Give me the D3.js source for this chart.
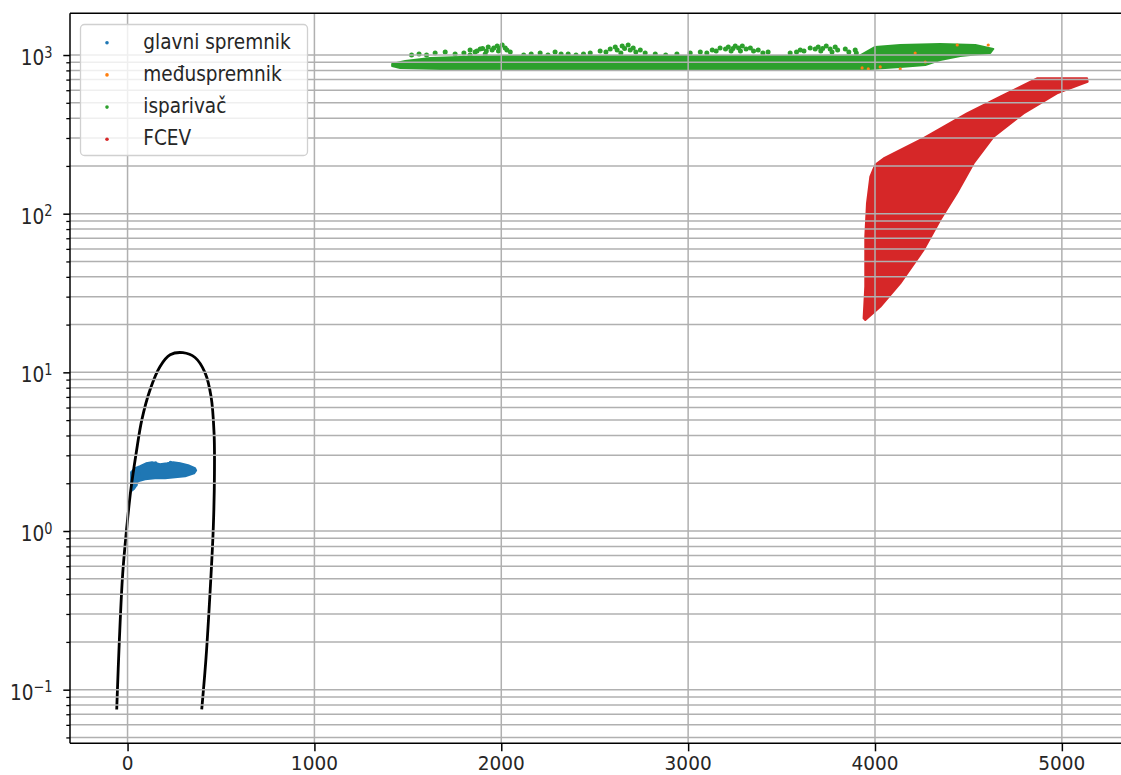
<!DOCTYPE html>
<html><head><meta charset="utf-8">
<script src="https://cdn.jsdelivr.net/npm/d3@7"></script>
<style>body{margin:0;background:#fff}svg{display:block}text{font-family:"DejaVu Sans",sans-serif;fill:#262626}</style>
</head><body>
<svg id="c" width="1121" height="775"></svg>
<script>
// ---------- data ----------
const xTicks = [0, 1000, 2000, 3000, 4000, 5000];
const yTickExps = [-1, 0, 1, 2, 3];
const legendLabels = ["glavni spremnik", "međuspremnik", "isparivač", "FCEV"];
const seriesColors = ["#1f77b4", "#ff7f0e", "#2ca02c", "#d62728"];

// black boundary curve (x, y)
const curvePts = [[-58,0.075],[-44,0.203],[-26,0.538],[-4,1.06],[17,1.80],[46,3.09],[76,5.0],[120,7.75],[174,10.9],[228,12.9],[296,13.3],[361,12.4],[415,9.93],[447,7.03],[463,4.14],[465,2.31],[459,1.06],[442,0.42],[420,0.159],[397,0.075]];

// glavni spremnik: outline of the dense point cloud
const blueCloud = [[19,2.35],[40,2.49],[67,2.56],[99,2.67],[131,2.71],[174,2.64],[211,2.67],[244,2.71],[281,2.67],[324,2.60],[361,2.49],[367,2.41],[356,2.31],[308,2.21],[254,2.18],[201,2.15],[147,2.15],[94,2.12],[56,2.06],[40,1.88],[24,1.80],[19,1.94]];
const bluePoints = [[30,1.85],[45,1.95],[60,2.3],[110,2.6],[150,2.68],[190,2.6],[230,2.7],[270,2.65],[300,2.45],[340,2.35]];

// međuspremnik: the few visible points
const orangePoints = [[4215,1030],[4440,1157],[4606,1157],[3931,829],[3964,817],[4135,817],[4028,841],[4269,904]];

// isparivač: outline of dense band + scattered points above it
const greenCloud = [[1416,878],[1486,917],[1620,958],[1780,972],[1994,986],[2315,986],[2637,986],[2958,986],[3279,986],[3600,986],[3921,994],[4001,1124],[4135,1157],[4349,1174],[4537,1157],[4633,1092],[4617,1030],[4456,986],[4349,931],[4269,866],[4135,841],[3975,817],[3600,817],[2529,817],[1673,817],[1459,829],[1416,853]];
const greenPoints = [[1646,1030],[1700,1045],[1753,1015],[1833,1076],[1860,1045],[1887,1092],[1930,1124],[1951,1076],[1978,1141],[2005,1157],[2021,1108],[2048,1045],[1833,1001],[1914,1015],
 [2208,1030],[2288,1045],[2358,1015],
 [2476,1030],[2529,1060],[2583,1092],[2610,1124],[2647,1141],[2679,1157],[2706,1108],[2744,1076],[2770,1030],[2824,1015],
 [3011,1030],[3065,1045],[3129,1076],[3171,1108],[3215,1124],[3252,1141],[3290,1141],[3333,1108],[3375,1076],[3428,1045],
 [3546,1030],[3600,1076],[3653,1108],[3696,1124],[3739,1141],[3787,1124],[3841,1092],[3894,1076],
 [1520,1001],[1560,1015],[1600,1001],
 [1800,1030],[1870,1060],[1900,1100],[1960,1108],[1990,1100],[2030,1076],[1920,1060],[1985,1060],
 [2120,1001],[2160,1015],[2250,1001],[2320,1015],[2400,1001],[2440,1015],
 [2560,1045],[2620,1076],[2660,1100],[2690,1076],[2720,1045],[2640,1030],
 [2880,1001],[2940,1015],
 [3100,1030],[3150,1060],[3200,1090],[3240,1100],[3270,1108],[3310,1092],[3350,1060],[3400,1030],[3230,1060],[3280,1060],
 [3580,1045],[3620,1060],[3680,1092],[3720,1100],[3760,1092],[3800,1076],[3860,1045],[3900,1030],[3710,1060],[3770,1045]];

// FCEV: outline of dense point cloud
const redCloud = [[4001,203],[4046,223],[4260,299],[4492,429],[4670,546],[4867,713],[5135,713],[5138,679],[5116,664],[4974,574],[4795,429],[4635,306],[4528,208],[4439,135],[4349,91.3],[4260,59],[4135,36.4],[4028,25.9],[3948,21.4],[3939,21.9],[3948,34.7],[3948,71.6],[3957,116],[3975,171]];

// ---------- layout ----------
const L = 70, R = 1131, T = 13.3, B = 743.3;
const FS = 18.5, SY = 1.17;
const svg = d3.select("#c");
const x = d3.scaleLinear().domain([-308, 5370]).range([L, R]);
const y = d3.scaleLog().domain([Math.pow(10,-1.338), Math.pow(10,3.263)]).range([B, T]);

svg.append("clipPath").attr("id","clip").append("rect").attr("x",L).attr("y",T).attr("width",R-L).attr("height",B-T);
const plot = svg.append("g").attr("clip-path","url(#clip)");

const poly = d3.line().x(d=>x(d[0])).y(d=>y(d[1])).curve(d3.curveLinearClosed);

function cloud(data, color){
  plot.append("path").attr("d", poly(data)).attr("fill", color).attr("stroke", color).attr("stroke-width", 2).attr("stroke-linejoin","round");
}
function dots(data, color, r){
  plot.append("g").selectAll("circle").data(data).join("circle")
    .attr("cx", d=>x(d[0])).attr("cy", d=>y(d[1])).attr("r", r).attr("fill", color);
}
cloud(blueCloud, seriesColors[0]); dots(bluePoints, seriesColors[0], 1.8);
cloud(greenCloud, seriesColors[2]); dots(greenPoints, seriesColors[2], 2.5);
dots(orangePoints, seriesColors[1], 1.6);
cloud(redCloud, seriesColors[3]);

// ---------- grid ----------
const minorVals = [];
yTickExps.concat([-2]).forEach(e => { for (let k=1;k<10;k++){ const v=k*Math.pow(10,e); if (v>=y.domain()[0] && v<=y.domain()[1]) minorVals.push(v);} });
const grid = svg.append("g");
grid.selectAll("line.h").data(minorVals).join("line").attr("class","h")
  .attr("x1",L).attr("x2",R).attr("y1",d=>y(d)).attr("y2",d=>y(d))
  .attr("stroke","#b0b0b0").attr("stroke-width",1.5);
grid.selectAll("line.v").data(xTicks).join("line").attr("class","v")
  .attr("x1",d=>x(d)).attr("x2",d=>x(d)).attr("y1",T).attr("y2",B)
  .attr("stroke","#b0b0b0").attr("stroke-width",1.5);

// ---------- black curve ----------
plot.append("path").datum(curvePts)
  .attr("d", d3.line().x(d=>x(d[0])).y(d=>y(d[1])).curve(d3.curveCatmullRom.alpha(0.5)))
  .attr("fill","none").attr("stroke","#000").attr("stroke-width",2.8);

// ---------- axes ----------
const xAxis = svg.append("g").attr("transform",`translate(0,${B})`)
  .call(d3.axisBottom(x).tickValues(xTicks).tickSize(8).tickFormat(""));
xAxis.select(".domain").remove();
xAxis.selectAll(".tick line").attr("stroke","#000").attr("stroke-width",1.5);
xTicks.forEach(v=>{
  svg.append("text").attr("transform",`translate(${x(v)},770) scale(1,1.08)`)
    .attr("text-anchor","middle").attr("font-size",FS).text(v);
});

const yMinor = svg.append("g").attr("transform",`translate(${L},0)`)
  .call(d3.axisLeft(y).tickValues(minorVals.filter(v=>!yTickExps.map(e=>Math.pow(10,e)).some(m=>Math.abs(m-v)<1e-9))).tickSize(3.7).tickFormat(""));
yMinor.select(".domain").remove();
yMinor.selectAll(".tick line").attr("stroke","#000").attr("stroke-width",1.3);
const yMajor = svg.append("g").attr("transform",`translate(${L},0)`)
  .call(d3.axisLeft(y).tickValues(yTickExps.map(e=>Math.pow(10,e)).filter(v=>v>=y.domain()[0]&&v<=y.domain()[1])).tickSize(6.7).tickFormat(""));
yMajor.select(".domain").remove();
yMajor.selectAll(".tick line").attr("stroke","#000").attr("stroke-width",1.5);
yTickExps.forEach(e=>{
  const t = svg.append("text").attr("transform",`translate(52.5,${y(Math.pow(10,e))+10}) scale(1,${SY})`)
    .attr("text-anchor","end").attr("font-size",FS);
  t.append("tspan").text("10");
  t.append("tspan").attr("font-size",FS*0.7).attr("dy",-6.2).text(e<0 ? "\u2212"+(-e) : String(e));
});

// spines
svg.append("line").attr("x1",L).attr("x2",L).attr("y1",T).attr("y2",B).attr("stroke","#000").attr("stroke-width",1.5);
svg.append("line").attr("x1",L).attr("x2",R).attr("y1",B).attr("y2",B).attr("stroke","#000").attr("stroke-width",1.5);
svg.append("line").attr("x1",L).attr("x2",R).attr("y1",T).attr("y2",T).attr("stroke","#000").attr("stroke-width",1.5);

// ---------- legend ----------
const lg = svg.append("g");
lg.append("rect").attr("x",80.5).attr("y",24.5).attr("width",227).attr("height",131).attr("rx",4)
  .attr("fill","rgba(255,255,255,0.8)").attr("stroke","#d0d0d0").attr("stroke-width",1.3);
legendLabels.forEach((lab,i)=>{
  const cy = 42.7 + i*32.2;
  lg.append("circle").attr("cx",107).attr("cy",cy).attr("r",1.8).attr("fill",seriesColors[i]);
  lg.append("text").attr("transform",`translate(143.3,${cy+6}) scale(1,${SY})`).attr("font-size",FS).text(lab);
});
</script>
</body></html>
